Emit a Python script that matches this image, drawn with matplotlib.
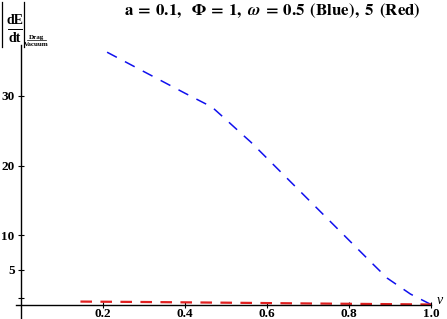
import matplotlib.pyplot as plt
from matplotlib.lines import Line2D

plt.rcParams['mathtext.fontset'] = 'stix'
plt.rcParams['font.family'] = 'Liberation Serif'

# blue curve: omega = 0.5
v_blue = [0.21, 0.30, 0.40, 0.466, 0.50, 0.541, 0.56, 0.65, 0.75,
          0.85, 0.893, 0.95, 1.0]
E_blue = [36.3, 33.5, 30.4, 28.4, 26.6, 24.4, 23.4, 18.1, 12.2,
          6.3, 3.8, 1.5, 0.0]

# red curve: omega = 5
v_red = [0.145, 0.3, 0.5, 0.7, 0.9, 1.0]
E_red = [0.42, 0.36, 0.26, 0.15, 0.05, 0.0]

x_ticks = [0.2, 0.4, 0.6, 0.8, 1.0]
x_labels = ["0.2", "0.4", "0.6", "0.8", "1.0"]
y_ticks = [1, 5, 10, 20, 30]
y_labels = ["", "5", "10", "20", "30"]

W, H = 447, 319
fig = plt.figure(figsize=(W / 100, H / 100), dpi=100)

# pixel geometry: v=0 at x=21, 410 px per unit; E=0 at y=304.5, 6.95 px per unit
xlim = (-0.04, 1.04)
ylim = (-2.0, 38.0)
px_l = 21 + 410 * xlim[0]
px_r = 21 + 410 * xlim[1]
py_b = 304.5 - 6.95 * ylim[0]
py_t = 304.5 - 6.95 * ylim[1]
ax = fig.add_axes([px_l / W, 1 - py_b / H, (px_r - px_l) / W, (py_b - py_t) / H])
ax.set_xlim(*xlim)
ax.set_ylim(*ylim)

ax.plot(v_blue, E_blue, color='#1010ee', lw=1.1, dashes=(7.2, 6))
ax.plot(v_red, E_red, color='#e02020', lw=1.6, dashes=(5.2, 3.8))

for s in ['top', 'right']:
    ax.spines[s].set_visible(False)
ax.spines['left'].set_position(('data', 0))
ax.spines['bottom'].set_position(('data', 0))
ax.spines['bottom'].set_bounds(-0.012, 1.0)
ax.spines['left'].set_bounds(-1.9, 37.3)
ax.spines['left'].set_linewidth(1.0)
ax.spines['bottom'].set_linewidth(1.0)
ax.patch.set_visible(False)

ax.set_xticks(x_ticks)
ax.set_xticklabels(x_labels, fontweight='bold', fontsize=9.5)
ax.set_yticks(y_ticks)
ax.set_yticklabels(y_labels, fontweight='bold', fontsize=9.5)
ax.tick_params(direction='inout', length=5, width=0.8, pad=2)
ax.tick_params(axis='x', pad=0)

fig.text(440 / W, 1 - 300 / H, "v", style='italic', fontsize=10, ha='center', va='center')

fig.text(272 / W, 1 - 11 / H,
         r"$\mathbf{a\:=\:0.1,\ \ \Phi\:=\:1,}\ \boldsymbol{\omega}\:\mathbf{=}\:\mathbf{0.5\ \,(Blue),\ 5\ \,(Red)}$",
         fontsize=12.2, ha='center', va='center')


# y-axis label |dE/dt| with Drag/Vacuum subscript, built in pixel coordinates
def px_line(x0, y0, x1, y1, lw):
    fig.add_artist(Line2D([x0 / W, x1 / W], [1 - y0 / H, 1 - y1 / H],
                          transform=fig.transFigure, color='black', lw=lw))


px_line(2, 2, 2, 47, 0.9)
px_line(24, 2, 24, 47, 0.9)
px_line(8, 28.5, 22, 28.5, 0.7)
fig.text(15 / W, 1 - 21 / H, "dE", fontsize=10, fontweight='bold', ha='center', va='center')
fig.text(15 / W, 1 - 38.5 / H, "dt", fontsize=10, fontweight='bold', ha='center', va='center')
fig.text(36.5 / W, 1 - 37 / H, "Drag", fontsize=5, fontweight='bold',
         ha='center', va='center')
fig.text(36.5 / W, 1 - 44 / H, "Vacuum", fontsize=5, fontweight='bold',
         ha='center', va='center')
px_line(27, 40.3, 46, 40.3, 0.5)

fig.savefig("out.png", dpi=100)
